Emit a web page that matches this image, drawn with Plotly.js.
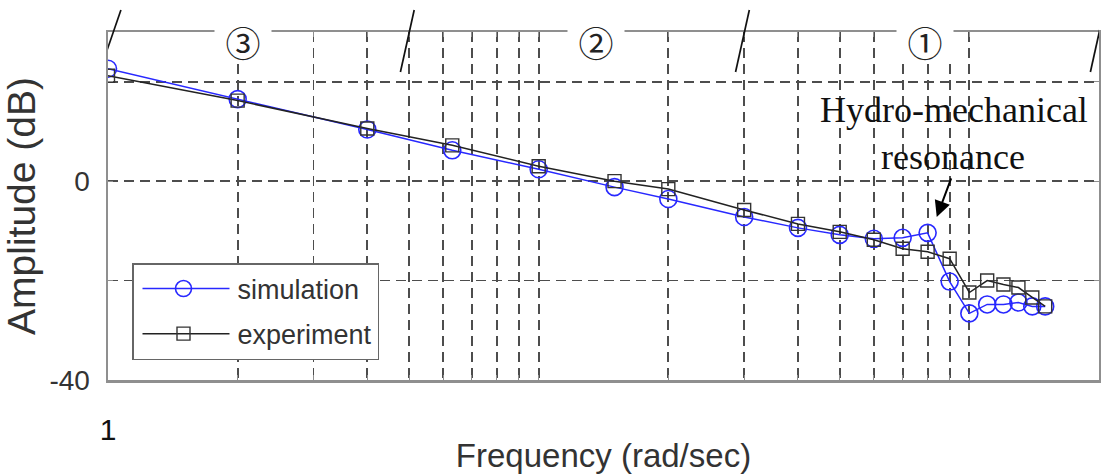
<!DOCTYPE html>
<html><head><meta charset="utf-8">
<script src="https://cdn.plot.ly/plotly-3.0.1.min.js"></script>
<style>html,body{margin:0;padding:0;background:#fff;}#chart{width:1101px;height:474px;}</style>
</head><body><div id="chart"></div>
<script>
// ---- data ----
const frequency = [1, 2, 4, 6.3, 10, 15, 20, 30, 40, 50, 60, 70, 80, 90, 100, 110, 120, 130, 140, 150];
const simulation = [22.6, 16.5, 10.4, 6.2, 2.4, -1.2, -3.6, -7.2, -9.4, -10.8, -11.6, -11.4, -10.4, -20.2, -26.6, -24.8, -24.8, -24.4, -25.2, -25.2];
const experiment = [21.2, 16.2, 10.6, 7.2, 3.0, 0.0, -1.6, -5.8, -8.6, -10.2, -11.8, -13.6, -14.2, -15.6, -22.4, -20.0, -20.8, -21.4, -23.4, -25.2];
const xGridVals = [1, 2, 3, 4, 5, 6, 7, 8, 9, 10, 20, 30, 40, 50, 60, 70, 80, 90, 100, 200];
const xTickText = ['1', '', '', '', '', '', '', '', '', '', '', '', '', '', '', '', '', '', '', ''];
const yTickVals = [-40, -20, 0, 20];
const yTickText = ['-40', '', '0', ''];
const regionBounds = [1, 5, 30, 200];
const regionLabels = ['③', '②', '①'];
const regionLabelFreq = [2.06, 13.6, 78.7];
const noteLines = ['Hydro-mechanical', 'resonance'];
const resonanceFreq = 84;
const resonanceAmp = -7.2;

// ---- layout helpers ----
const SANS = 'Liberation Sans, Arial, sans-serif';
const plotTop = 32, plotBottom = 380, plotLeft = 108, plotRight = 1099;
const py = px => (plotBottom - px) / (plotBottom - plotTop);
const pxx = px => (px - plotLeft) / (plotRight - plotLeft);
const L = Math.log10;

const traces = [
  {x: frequency, y: simulation, name: 'simulation', legendgroup: 'sim', type: 'scatter', mode: 'lines+markers',
   line: {color: 'rgb(40,40,255)', width: 1.5},
   marker: {symbol: 'circle-open', size: 17, color: 'rgb(40,40,255)', line: {width: 1.6}}},
  {x: frequency, y: experiment, name: 'experiment', legendgroup: 'exp', type: 'scatter', mode: 'lines+markers',
   line: {color: '#222', width: 1.5},
   marker: {symbol: 'square-open', size: 13, color: '#333', line: {width: 1.4}}}
];

const shapes = regionBounds.map((b, i) => {
  const first = i === 0;
  return {type: 'line', xref: 'x', yref: 'paper',
    x0: b * Math.pow(10, first ? -0.002 : -0.02), x1: b * Math.pow(10, first ? 0.03 : 0.012),
    y0: first ? py(50) : py(72), y1: py(10),
    line: {color: '#111', width: 1.7}};
});

const annotations = [];
regionLabels.forEach((t, i) => {
  annotations.push({text: t, xref: 'x', yref: 'paper', x: L(regionLabelFreq[i]), y: py(41),
    xanchor: 'center', yanchor: 'middle', showarrow: false, bgcolor: '#fff',
    width: 56, height: 42, borderpad: 0,
    font: {family: 'Noto Sans CJK JP, DejaVu Sans', size: 35, color: '#222'}});
});
annotations.push({text: noteLines[0], xref: 'paper', yref: 'paper', x: pxx(954), y: py(110),
  xanchor: 'center', yanchor: 'middle', showarrow: false,
  font: {family: 'Liberation Serif, Times New Roman, serif', size: 36, color: '#111'}});
annotations.push({text: noteLines[1], xref: 'paper', yref: 'paper', x: pxx(953), y: py(157),
  xanchor: 'center', yanchor: 'middle', showarrow: false,
  font: {family: 'Liberation Serif, Times New Roman, serif', size: 36, color: '#111'}});
annotations.push({text: '', xref: 'x', yref: 'y', x: L(resonanceFreq), y: resonanceAmp,
  showarrow: true, ax: 15, ay: -40, arrowhead: 2, arrowsize: 1.6, arrowwidth: 2, arrowcolor: '#000'});

const gridStyle = {showgrid: true, gridcolor: '#4d4d4d', gridwidth: 1.8, griddash: '10px,6px'};

const layout = {
  width: 1101, height: 474, autosize: false,
  margin: {l: plotLeft, r: 1101 - plotRight, t: plotTop, b: 474 - plotBottom},
  paper_bgcolor: '#fff', plot_bgcolor: '#fff',
  showlegend: true,
  legend: {x: pxx(132), y: py(263), xanchor: 'left', yanchor: 'top',
    bgcolor: '#fff', bordercolor: '#666', borderwidth: 1.5, itemwidth: 94,
    font: {family: SANS, size: 27, color: '#333'}, tracegroupgap: 7},
  xaxis: Object.assign({type: 'log', range: [0, L(200)], tickmode: 'array', tickvals: xGridVals, ticktext: xTickText,
    showline: true, mirror: 'ticks', linecolor: '#8f8f8f', linewidth: 2.5,
    ticks: 'inside', ticklen: 5, tickcolor: '#8f8f8f', ticklabelstandoff: 21,
    tickfont: {family: SANS, size: 30, color: '#111'}, zeroline: false,
    title: {text: 'Frequency (rad/sec)', standoff: 11, font: {family: SANS, size: 33, color: '#333'}}}, gridStyle),
  yaxis: Object.assign({range: [-40, 30], tickmode: 'array', tickvals: yTickVals, ticktext: yTickText,
    showline: true, mirror: 'ticks', linecolor: '#8f8f8f', linewidth: 2.5,
    ticks: 'inside', ticklen: 5, tickcolor: '#8f8f8f', ticklabelstandoff: 10,
    tickfont: {family: SANS, size: 28, color: '#333'}, zeroline: false,
    title: {text: 'Amplitude (dB)', standoff: 8, font: {family: SANS, size: 39, color: '#333'}}}, gridStyle),
  shapes: shapes,
  annotations: annotations
};

Plotly.newPlot('chart', traces, layout, {displayModeBar: false, staticPlot: true}).then(() => {
  // lengthen the legend line samples to match the reference legend style
  document.querySelectorAll('.legend .legendlines path').forEach(p => p.setAttribute('d', 'M9,0h87'));
  document.querySelectorAll('.legend .legendpoints path.scatterpts').forEach(p => p.setAttribute('transform', 'translate(50,0)'));
});
</script>
</body></html>
